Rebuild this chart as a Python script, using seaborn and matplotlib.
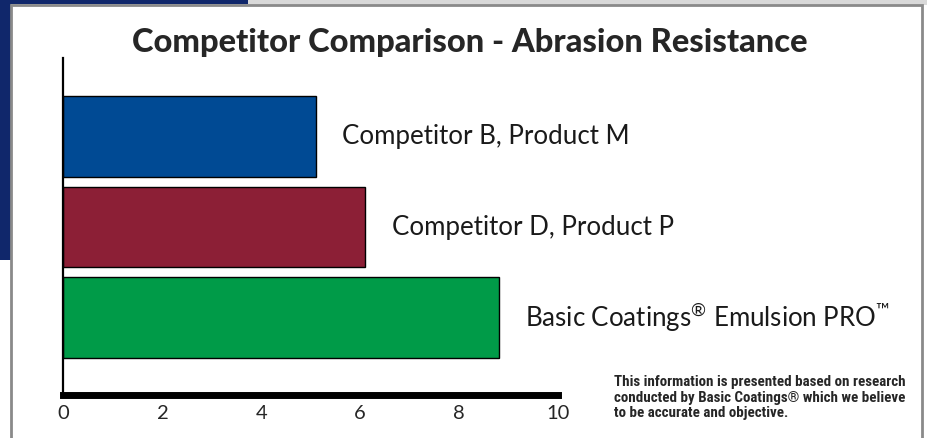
import numpy as np
import pandas as pd
import seaborn as sns
import matplotlib.pyplot as plt
from matplotlib.patches import Rectangle

products = [
    "Competitor B, Product M",
    "Competitor D, Product P",
    "Basic Coatings\u00ae Emulsion PRO\u2122",
]
# bar-end text, with the marks raised like in the original
label_text = [
    "Competitor B, Product M",
    "Competitor D, Product P",
    "Basic Coatings$^{\\mathregular{\u00ae}}$ Emulsion PRO$^{\\mathregular{\u2122}}$",
]
scores = [5.1, 6.1, 8.8]
bar_colors = ["#004A94", "#8C1F36", "#009B48"]
xticks = [0, 2, 4, 6, 8, 10]
title = "Competitor Comparison - Abrasion Resistance"
note = ("This information is presented based on research\n"
        "conducted by Basic Coatings\u00ae which we believe\n"
        "to be accurate and objective.")

W, H = 927, 438

sns.set_style("white")
plt.rcParams["font.family"] = ["Lato", "DejaVu Sans"]

fig = plt.figure(figsize=(W / 100, H / 100), dpi=100)
fig.patch.set_facecolor("white")


def px_rect(x0, y0, x1, y1, **kw):
    # pixel box (top-left origin) -> figure rectangle
    r = Rectangle((x0 / W, 1 - y1 / H), (x1 - x0) / W, (y1 - y0) / H,
                  transform=fig.transFigure, **kw)
    fig.add_artist(r)


# page background behind the chart panel
px_rect(0, 0, W, 5, facecolor="#d9d9d9", edgecolor="none", zorder=-3)
px_rect(0, 0, 248, 4, facecolor="#10276b", edgecolor="none", zorder=-2)
px_rect(0, 0, 11, 260, facecolor="#10276b", edgecolor="none", zorder=-2)
px_rect(11, 5, 922, H + 5, facecolor="white", edgecolor="#8a8a8a",
        linewidth=2, zorder=-1)

ax = fig.add_axes([63.5 / W, 1 - 395 / H, (558 - 63.5) / W, (395 - 58) / H])
ax.patch.set_alpha(0)

df = pd.DataFrame({"product": products, "score": scores})
sns.barplot(data=df, x="score", y="product", hue="product",
            palette=bar_colors, saturation=1, orient="h", width=0.89,
            edgecolor="black", linewidth=1, legend=False, ax=ax)

for cont, lab in zip(ax.containers, label_text):
    ax.bar_label(cont, labels=[lab], padding=19, fontsize=18.6,
                 color="#1a1a1a", fontweight="normal")

ax.set_xlim(0, 10)
ax.set_ylim(2.857, -0.87)
ax.set_xticks(xticks)
ax.set_xticklabels([str(t) for t in xticks], fontsize=14.5)
ax.set_yticks([])
ax.set_xlabel("")
ax.set_ylabel("")
ax.tick_params(axis="x", length=0, pad=7)

sns.despine(ax=ax)
ax.spines["left"].set_linewidth(1.6)
ax.spines["left"].set_color("black")
ax.spines["bottom"].set_linewidth(5)
ax.spines["bottom"].set_color("black")

fig.text(470 / W, 1 - 52 / H, title, ha="center", va="baseline",
         fontsize=23.5, fontweight="black", family=["Lato", "DejaVu Sans"])

fig.text(614 / W, 1 - 375 / H, note, ha="left", va="top", fontsize=10.8,
         fontweight="bold", linespacing=1.15,
         family=["Liberation Sans Narrow", "Roboto Condensed", "DejaVu Sans"])

fig.savefig("out.png", dpi=100)
